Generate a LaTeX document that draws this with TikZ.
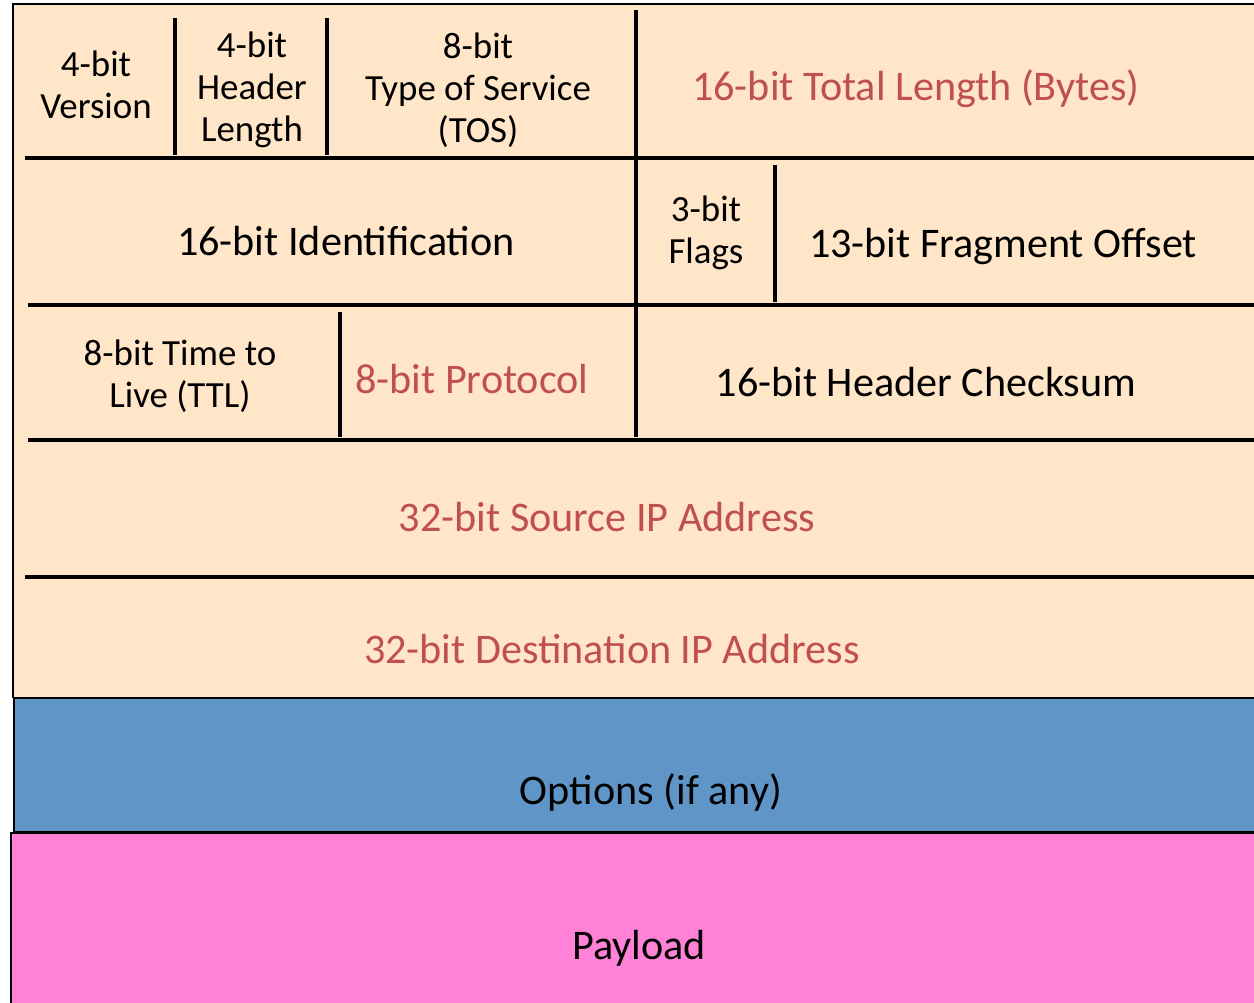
\documentclass[tikz,border=0pt]{standalone}
\usepackage{fontspec}
\setmainfont{Carlito}
\usetikzlibrary{positioning}
\definecolor{hdrbg}{HTML}{FFE6C8}
\definecolor{optbg}{HTML}{5F95C7}
\definecolor{paybg}{HTML}{FF82D6}
\definecolor{fieldred}{HTML}{C0504D}

\begin{document}
\begin{tikzpicture}[
  x=0.02cm, y=-0.02cm,
  field/.style={align=center, inner sep=0pt, font=\fontsize{24}{29}\selectfont},
  small/.style={align=center, inner sep=0pt, font=\fontsize{21}{24}\selectfont},
  hot/.style={text=fieldred},
  rule/.style={line width=2.8pt},
  frame/.style={draw=black, line width=1.1pt}]
  \useasboundingbox (0,0) rectangle (1254,1003);
  % blocks
  \fill[hdrbg] (13,4) rectangle (1260,698);
  \draw[frame] (1260,4) -- (13,4) -- (13,698);
  \filldraw[fill=optbg, frame] (14,698) rectangle (1260,832);
  \filldraw[fill=paybg, frame] (11,833) rectangle (1260,1010);
  % row separators
  \draw[rule] (25,158) -- (1260,158);
  \draw[rule] (28,305) -- (1260,305);
  \draw[rule] (28,440) -- (1260,440);
  \draw[rule] (25,577) -- (1260,577);
  % field separators
  \draw[rule] (175,18) -- (175,155);
  \draw[rule] (327,18) -- (327,155);
  \draw[rule] (636,10) -- (636,437);
  \draw[rule] (775,165) -- (775,302);
  \draw[rule] (340,312) -- (340,437);
  % word 1
  \node[small] (ver) at (96,85) {4-bit\\Version};
  \node[small] (ihl) at (252,90) {4-bit\\Header\\Length};
  \node[small] (tos) at (478,90) {8-bit\\Type of Service\\(TOS)};
  \node[field, hot] (len) at (916,89) {16-bit Total Length (Bytes)};
  % word 2
  \node[field] (ident) at (346,241) {16-bit Identification};
  \node[small] (flags) at (706,233) {3-bit\\Flags};
  \node[field] (frag) at (1003,246) {13-bit Fragment Offset};
  % word 3
  \node[small] (ttl) at (180,376) {8-bit Time to\\Live (TTL)};
  \node[field, hot] (proto) at (472,379) {8-bit Protocol};
  \node[field] (csum) at (926,382) {16-bit Header Checksum};
  % addresses
  \node[field, hot] (src) at (607,517) {32-bit Source IP Address};
  \node[field, hot] (dst) at (612,649) {32-bit Destination IP Address};
  \node[field] (opts) at (651,792) {Options (if any)};
  \node[field] (data) at (639,948) {Payload};
\end{tikzpicture}
\end{document}
